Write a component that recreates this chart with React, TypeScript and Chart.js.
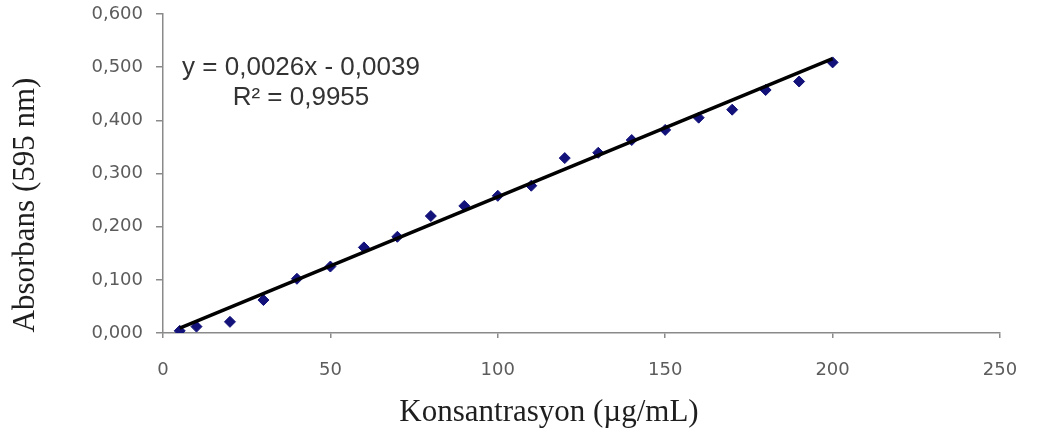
import React, { useEffect, useRef } from 'react';
import { Chart, registerables } from 'chart.js';

Chart.register(...registerables);

// ---- data ----
const concentrations = [5, 10, 20, 30, 40, 50, 60, 70, 80, 90, 100, 110, 120, 130, 140, 150, 160, 170, 180, 190, 200];
const absorbances = [0.004, 0.012, 0.021, 0.062, 0.102, 0.125, 0.161, 0.181, 0.220, 0.239, 0.258, 0.277, 0.329, 0.339, 0.363, 0.382, 0.405, 0.420, 0.457, 0.473, 0.509];
const trendX = [5, 200];
const trendY = [0.0091, 0.5161];
const xTicks = [0, 50, 100, 150, 200, 250];
const xTickLabels = ['0', '50', '100', '150', '200', '250'];
const yTicks = [0, 0.1, 0.2, 0.3, 0.4, 0.5, 0.6];
const yTickLabels = ['0,000', '0,100', '0,200', '0,300', '0,400', '0,500', '0,600'];
const xTitle = 'Konsantrasyon (µg/mL)';
const yTitle = 'Absorbans (595 nm)';
const equationLines = ['y = 0,0026x - 0,0039', 'R² = 0,9955'];

const AXIS = '#8a8a8a';
const TICK_TEXT = '#5c5c5c';
const MARKER = '#12127a';

const textPlugin = {
  id: 'annotText',
  afterDraw(chart: any) {
    const ctx = chart.ctx as CanvasRenderingContext2D;
    ctx.save();
    // x axis title
    ctx.fillStyle = '#1e1e1e';
    ctx.font = '31px "Liberation Serif"';
    ctx.textAlign = 'center';
    ctx.textBaseline = 'alphabetic';
    ctx.fillText(xTitle, 549, 421);
    // y axis title
    ctx.save();
    ctx.translate(34, 205);
    ctx.rotate(-Math.PI / 2);
    ctx.font = '31px "Liberation Serif"';
    ctx.fillText(yTitle, 0, 0);
    ctx.restore();
    // equation
    ctx.fillStyle = '#333333';
    ctx.font = '26px "Liberation Sans"';
    ctx.fillText(equationLines[0], 301, 75);
    ctx.fillText(equationLines[1], 301, 105);
    ctx.restore();
  },
};

export default function App() {
  const ref = useRef<HTMLCanvasElement | null>(null);

  useEffect(() => {
    document.body.style.margin = '0';
    const canvas = ref.current;
    if (!canvas) return;
    const chart = new Chart(canvas, {
      type: 'scatter',
      data: {
        datasets: [
          {
            label: 'Trend',
            data: trendX.map((x, i) => ({ x, y: trendY[i] })),
            showLine: true,
            borderColor: '#000000',
            borderWidth: 3.5,
            pointRadius: 0,
            order: 0,
          },
          {
            label: 'Absorbans',
            data: concentrations.map((x, i) => ({ x, y: absorbances[i] })),
            pointStyle: 'rectRot',
            pointRadius: 5.5,
            pointBackgroundColor: MARKER,
            pointBorderColor: MARKER,
            pointBorderWidth: 1,
            showLine: false,
            order: 1,
          },
        ],
      },
      options: {
        animation: false,
        responsive: false,
        layout: { padding: { top: 14, right: 40, bottom: 0, left: 0 } },
        plugins: { legend: { display: false }, tooltip: { enabled: false } },
        scales: {
          x: {
            type: 'linear',
            min: 0,
            max: 250,
            afterBuildTicks: (s: any) => {
              s.ticks = xTicks.map((v) => ({ value: v }));
            },
            afterFit: (s: any) => {
              s.height = 103;
              s.paddingLeft = 0;
              s.paddingRight = 0;
            },
            grid: { drawOnChartArea: false, drawTicks: true, tickLength: 5, color: AXIS, lineWidth: 1.5 },
            border: { display: true, color: AXIS, width: 1.5 },
            ticks: {
              padding: 22,
              color: TICK_TEXT,
              font: { family: 'DejaVu Sans', size: 18 },
              maxRotation: 0,
              autoSkip: false,
              callback: (_v: any, i: number) => xTickLabels[i],
            },
          },
          y: {
            type: 'linear',
            min: 0,
            max: 0.6,
            afterBuildTicks: (s: any) => {
              s.ticks = yTicks.map((v) => ({ value: v }));
            },
            afterFit: (s: any) => {
              s.width = 163;
              s.paddingTop = 0;
              s.paddingBottom = 0;
            },
            grid: { drawOnChartArea: false, drawTicks: true, tickLength: 7, color: AXIS, lineWidth: 1.5 },
            border: { display: true, color: AXIS, width: 1.5 },
            ticks: {
              padding: 13,
              color: TICK_TEXT,
              font: { family: 'DejaVu Sans', size: 18 },
              autoSkip: false,
              callback: (_v: any, i: number) => yTickLabels[i],
            },
          },
        },
      },
      plugins: [textPlugin],
    } as any);
    return () => chart.destroy();
  }, []);

  return (
    <div style={{ width: 1040, height: 436 }}>
      <canvas ref={ref} width={1040} height={436} style={{ display: 'block' }} />
    </div>
  );
}
